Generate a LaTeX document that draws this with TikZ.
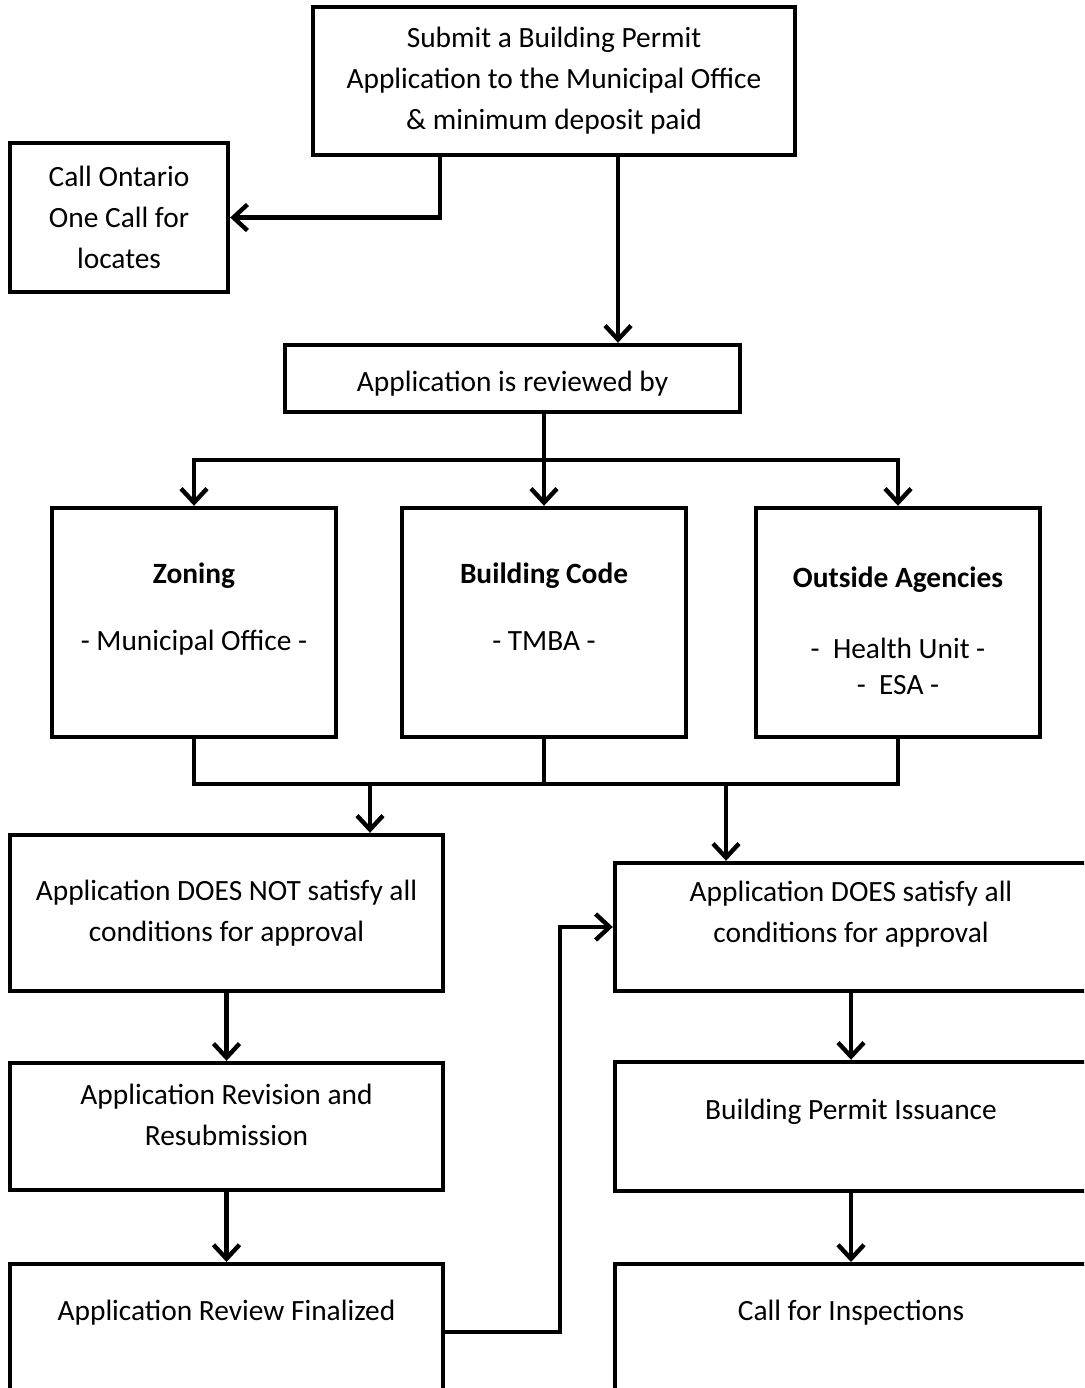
\documentclass[tikz,border=0pt]{standalone}
\usepackage{fontspec}
\setmainfont{Carlito}
\usepackage{tikz}
\usetikzlibrary{arrows.meta,positioning,calc}

% struts to move box texts up (depth) or down (height)
\newcommand{\lift}[1]{\rule[-#1]{0pt}{0pt}}
\newcommand{\sink}[1]{\rule{0pt}{#1}}

\begin{document}
\begin{tikzpicture}[x=0.5pt,y=-0.5pt,
			box/.style={rectangle, draw, line width=2.2pt, align=center, inner sep=0pt,
					font=\fontsize{14.7}{20.5}\selectfont},
			smallbox/.style={box, minimum width=142pt, minimum height=114.5pt},
			leftbox/.style={box, minimum width=216.5pt},
			rightbox/.style={box, minimum width=236pt},
			txt/.style={inner sep=0pt, align=center, font=\fontsize{14.7}{20.5}\selectfont},
			line/.style={line width=2.2pt},
			arrow/.style={line, -{Straight Barb[length=7pt,width=13pt]}}
		]
		\useasboundingbox (0,0) rectangle (1084,1388);
		\clip (0,0) rectangle (1084,1388);

		% application
		\node[box, minimum width=241pt, minimum height=74pt] (submit) at (554,81)
			{Submit a Building Permit\\Application to the Municipal Office\\\& minimum deposit paid};
		\node[box, minimum width=109pt, minimum height=74.5pt] (ontario) at (119,217.5)
			{Call Ontario\\One Call for\\locates};
		\node[box, minimum width=227.5pt, minimum height=33.5pt] (review) at (512.5,378.5)
			{\sink{15pt}Application is reviewed by};

		% reviewers
		\node[smallbox] (zoning) at (194,622.5) {\textbf{Zoning}\\[13pt]- Municipal Office -\lift{16pt}};
		\node[smallbox] (code) at (544,622.5) {\textbf{Building Code}\\[13pt]- TMBA -\lift{16pt}};
		\node[smallbox] (agencies) at (898,622.5)
			{\sink{19pt}\textbf{Outside Agencies}\\[15pt]-~~Health Unit -\\[-2.5pt]-~~ESA -};

		% not satisfied
		\node[leftbox, minimum height=78pt] (notsat) at (226.5,913)
			{Application DOES NOT satisfy all\\conditions for approval};
		\node[leftbox, minimum height=63.5pt] (revise) at (226.5,1126.5)
			{Application Revision and\\Resubmission\lift{12pt}};
		\node[leftbox, minimum height=68pt, anchor=north] (final) at (226.5,1262) {};
		\node[txt] (finaltxt) at ($(final.north)+(0,51)$) {Application Review Finalized};

		% satisfied
		\node[rightbox, minimum height=64pt] (sat) at (851,927)
			{Application DOES satisfy all\\conditions for approval\lift{15pt}};
		\node[rightbox, minimum height=64.5pt] (issue) at (851,1126.5)
			{Building Permit Issuance\lift{17pt}};
		\node[rightbox, minimum height=68pt, anchor=north] (inspect) at (851,1262) {};
		\node[txt] (inspecttxt) at ($(inspect.north)+(0,51)$) {Call for Inspections};

		% Connections
		\coordinate (tap) at ([xshift=32pt]submit.south);
		\draw[arrow] ([xshift=-57pt]submit.south) |- (ontario);
		\draw[arrow] (tap) -- (tap |- review.north);

		\coordinate (split) at ($(review.south -| code)!0.5!(code.north)$);
		\draw[arrow] (review.south -| code) -- (code);
		\draw[arrow] (split) -| (zoning);
		\draw[arrow] (split) -| (agencies);

		\coordinate (join) at ($(code.south)+(0,45)$);
		\draw[line] (zoning.south) |- (join) -| (agencies.south);
		\draw[line] (code.south) -- (join);
		\coordinate (nodrop) at (370,782);
		\coordinate (yesdrop) at (726,782);
		\draw[arrow] (nodrop) -- (nodrop |- notsat.north);
		\draw[arrow] (yesdrop) -- (yesdrop |- sat.north);

		\draw[arrow] (notsat) -- (revise);
		\draw[arrow] (revise) -- (final);
		\draw[arrow] (sat) -- (issue);
		\draw[arrow] (issue) -- (inspect);
		\draw[arrow] (final.east) -- ++(115,0) |- (sat.west);
	\end{tikzpicture}
\end{document}
